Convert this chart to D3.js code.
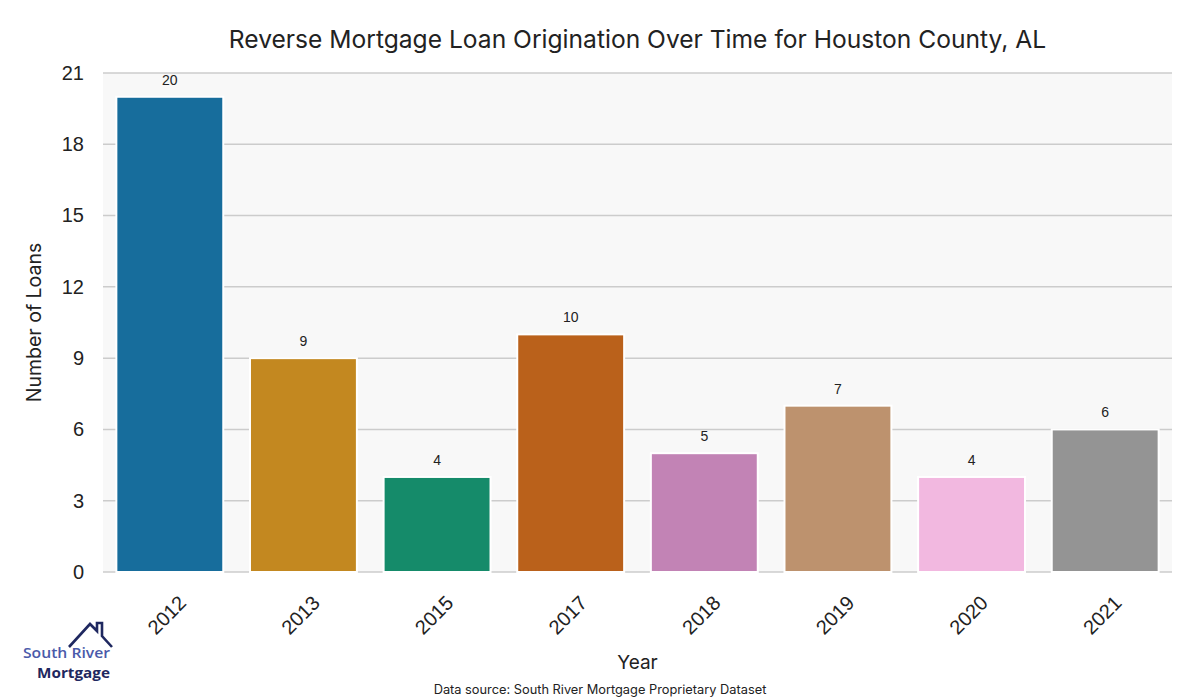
<!DOCTYPE html>
<html>
<head>
<meta charset="utf-8">
<script src="https://cdn.jsdelivr.net/npm/d3@7"></script>
<style>
  html, body { margin: 0; padding: 0; background: #ffffff; }
  svg { display: block; }
</style>
</head>
<body>
<svg id="chart" width="1200" height="700"></svg>
<script>
const years = ["2012", "2013", "2015", "2017", "2018", "2019", "2020", "2021"];
const loans = [20, 9, 4, 10, 5, 7, 4, 6];
const yTicks = [0, 3, 6, 9, 12, 15, 18, 21];
const basePalette = ["#0173b2", "#de8f05", "#029e73", "#d55e00", "#cc78bc", "#ca9161", "#fbafe4", "#949494"];
const titleText = "Reverse Mortgage Loan Origination Over Time for Houston County, AL";
const xLabel = "Year";
const yLabel = "Number of Loans";
const sourceText = "Data source: South River Mortgage Proprietary Dataset";

const geoFont = "Inter, 'Open Sans', sans-serif";
const tickFont = "'Liberation Sans', Arial, sans-serif";

const svg = d3.select("#chart");
const m = { left: 103, right: 1172, top: 73, bottom: 572 };

const x = d3.scaleBand().domain(years).range([m.left, m.right]).paddingInner(0.2).paddingOuter(0.1);
const y = d3.scaleLinear().domain([0, 21]).range([m.bottom, m.top]);

const colors = basePalette.map(c => { const h = d3.hsl(c); h.s *= 0.75; return h.formatHex(); });

// plot background
svg.append("rect").attr("x", m.left).attr("y", m.top)
  .attr("width", m.right - m.left).attr("height", m.bottom - m.top)
  .attr("fill", "#f8f8f8");

// grid
svg.append("g").selectAll("line").data(yTicks).join("line")
  .attr("x1", m.left).attr("x2", m.right)
  .attr("y1", d => y(d)).attr("y2", d => y(d))
  .attr("stroke", "#cccccc").attr("stroke-width", 1.5);

// y axis labels
const yAxis = d3.axisLeft(y).tickValues(yTicks).tickSize(0).tickPadding(0);
const gy = svg.append("g").attr("transform", `translate(${m.left - 19},0)`).call(yAxis);
gy.select(".domain").remove();
gy.selectAll("text").attr("font-family", tickFont).attr("font-size", 20).attr("fill", "#222");

// x axis labels
const xAxis = d3.axisBottom(x).tickSize(0).tickPadding(0);
const gx = svg.append("g").attr("transform", `translate(0,${m.bottom})`).call(xAxis);
gx.select(".domain").remove();
gx.selectAll("text")
  .attr("font-family", tickFont).attr("font-size", 20).attr("fill", "#222")
  .attr("y", 0).attr("dy", "0.35em")
  .attr("text-anchor", "middle")
  .attr("transform", "translate(-3,43) rotate(-45)");

// bars
svg.append("g").selectAll("rect").data(years).join("rect")
  .attr("x", d => x(d)).attr("width", x.bandwidth())
  .attr("y", (d, i) => y(loans[i]))
  .attr("height", (d, i) => y(0) - y(loans[i]))
  .attr("fill", (d, i) => colors[i])
  .attr("stroke", "#ffffff").attr("stroke-width", 2);

// value labels
svg.append("g").selectAll("text").data(years).join("text")
  .attr("x", d => x(d) + x.bandwidth() / 2)
  .attr("y", (d, i) => y(loans[i]) - 12)
  .attr("text-anchor", "middle")
  .attr("font-family", tickFont).attr("font-size", 14).attr("fill", "#222")
  .text((d, i) => loans[i]);

// title
svg.append("text").attr("x", (m.left + m.right) / 2).attr("y", 48)
  .attr("text-anchor", "middle").attr("font-family", geoFont)
  .attr("font-size", 24.6).attr("fill", "#222").text(titleText);

// axis titles
svg.append("text").attr("x", (m.left + m.right) / 2).attr("y", 669)
  .attr("text-anchor", "middle").attr("font-family", geoFont)
  .attr("font-size", 19).attr("fill", "#222").text(xLabel);

svg.append("text")
  .attr("transform", `translate(41,${(m.top + m.bottom) / 2}) rotate(-90)`)
  .attr("text-anchor", "middle").attr("font-family", geoFont)
  .attr("font-size", 19.5).attr("fill", "#222").text(yLabel);

// data source
svg.append("text").attr("x", 600).attr("y", 694)
  .attr("text-anchor", "middle").attr("font-family", geoFont)
  .attr("font-size", 12.8).attr("fill", "#222").text(sourceText);

// logo
const logo = svg.append("g");
logo.append("path")
  .attr("d", "M69,647 L90,624 L97,631 L97,623 L102,623 L102,636 L112,647")
  .attr("fill", "none").attr("stroke", "#1f2860").attr("stroke-width", 2.6)
  .attr("stroke-linejoin", "miter");
logo.append("text").attr("x", 23).attr("y", 658)
  .attr("textLength", 87).attr("lengthAdjust", "spacingAndGlyphs")
  .attr("font-family", "'Open Sans', sans-serif").attr("font-weight", 600)
  .attr("font-size", 14.5).attr("fill", "#4a5aaa").text("South River");
logo.append("text").attr("x", 37).attr("y", 677.5)
  .attr("textLength", 73).attr("lengthAdjust", "spacingAndGlyphs")
  .attr("font-family", "'Open Sans', sans-serif").attr("font-weight", 700)
  .attr("font-size", 14.5).attr("fill", "#1f2860").text("Mortgage");
</script>
</body>
</html>
